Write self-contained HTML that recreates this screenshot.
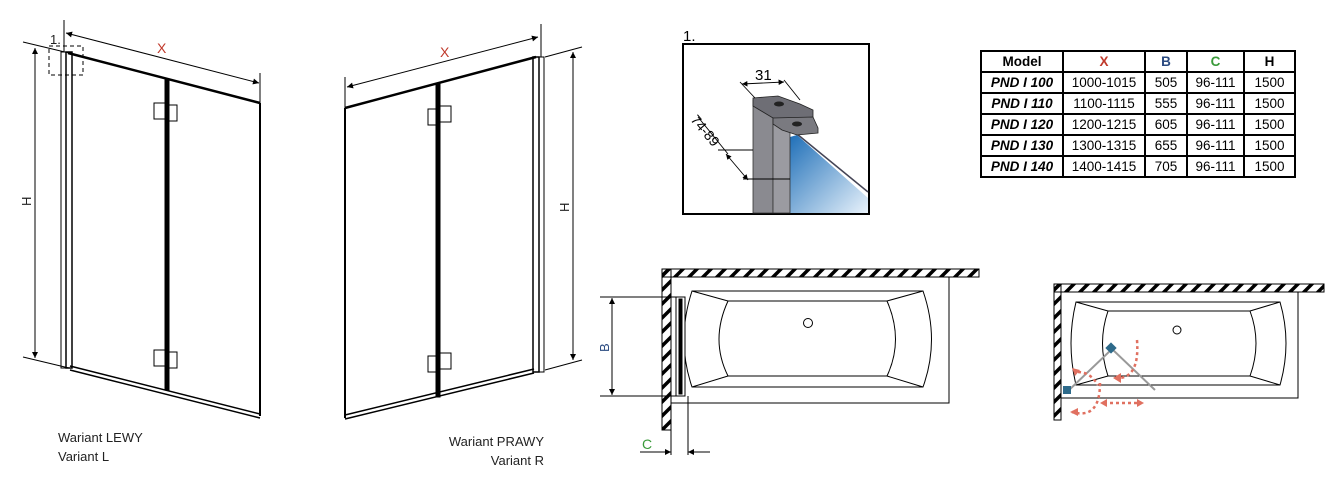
<!DOCTYPE html>
<html><head><meta charset="utf-8"><style>
html,body{margin:0;padding:0;background:#fff}
svg{display:block;font-family:"Liberation Sans","DejaVu Sans",sans-serif}
td{border:2px solid #000;padding:0;text-align:center;font-size:13.5px;height:19px}
</style></head><body>
<svg width="1339" height="484" viewBox="0 0 1339 484" xmlns="http://www.w3.org/2000/svg">
<defs>
<marker id="a" viewBox="0 0 10 10" refX="10" refY="5" markerWidth="9" markerHeight="6" orient="auto-start-reverse"><path d="M0,0L10,5L0,10z" fill="#000"/></marker>
<pattern id="h" width="14" height="14" patternUnits="userSpaceOnUse"><path d="M-3,17L17,-3M-3,3L3,-3M11,17L17,11" stroke="#000" stroke-width="3.5"/></pattern>
<linearGradient id="g" x1="0" y1="0" x2="1" y2="1"><stop offset="0" stop-color="#1f6fb8"/><stop offset="1" stop-color="#e8f2fb"/></linearGradient>
</defs>
<g stroke="#000" fill="none" stroke-width="1">
<!-- LEFT DOOR -->
<line x1="64" y1="20" x2="64" y2="52"/>
<line x1="260" y1="73" x2="260" y2="103"/>
<line x1="66" y1="33" x2="259" y2="83" marker-start="url(#a)" marker-end="url(#a)"/>
<line x1="23" y1="42" x2="69" y2="53"/><line x1="23" y1="357" x2="69" y2="368"/>
<line x1="35" y1="48" x2="35" y2="358" marker-start="url(#a)" marker-end="url(#a)"/>
<rect x="61" y="52" width="5" height="316"/><rect x="66" y="52" width="6" height="316" stroke-width="1.5"/>
<line x1="68" y1="53" x2="260" y2="103" stroke-width="2.5"/>
<line x1="260" y1="103" x2="260" y2="416" stroke-width="2"/>
<line x1="70" y1="366" x2="260" y2="414" stroke-width="1.5"/><line x1="70" y1="370" x2="260" y2="418" stroke-width="1.5"/>
<rect x="165" y="80" width="4" height="310" fill="#000"/>
<rect x="154" y="103" width="12" height="16"/><rect x="166" y="105" width="11" height="16"/>
<rect x="154" y="350" width="12" height="16"/><rect x="166" y="352" width="11" height="16"/>
<rect x="49" y="46" width="34" height="29" stroke-dasharray="4,3"/>
<!-- RIGHT DOOR -->
<line x1="345" y1="77" x2="345" y2="108"/>
<line x1="541" y1="24" x2="541" y2="57"/>
<line x1="347" y1="87" x2="538" y2="37" marker-start="url(#a)" marker-end="url(#a)"/>
<line x1="545" y1="57" x2="582" y2="47"/><line x1="545" y1="370" x2="582" y2="360"/>
<line x1="573" y1="52" x2="573" y2="360" marker-start="url(#a)" marker-end="url(#a)"/>
<line x1="345" y1="108" x2="536" y2="57" stroke-width="2.5"/>
<line x1="345" y1="108" x2="345" y2="418" stroke-width="2"/>
<rect x="533" y="57" width="6" height="315" stroke-width="1.5"/><rect x="539" y="57" width="5" height="315"/>
<line x1="345" y1="415" x2="534" y2="369" stroke-width="1.5"/><line x1="345" y1="419" x2="534" y2="373" stroke-width="1.5"/>
<rect x="436" y="83" width="4" height="314" fill="#000"/>
<rect x="428" y="109" width="11" height="16"/><rect x="439" y="106" width="12" height="16"/>
<rect x="428" y="356" width="11" height="16"/><rect x="439" y="353" width="12" height="16"/>
</g>
<g font-size="13" fill="#222">
<text x="157" y="53" fill="#c0392b" font-size="14">X</text>
<text x="440" y="57" fill="#c0392b" font-size="14">X</text>
<text x="50" y="44" font-size="13">1.</text>
<text transform="translate(31,206) rotate(-90)" font-size="13">H</text>
<text transform="translate(569,212) rotate(-90)" font-size="13">H</text>
<text x="58" y="442">Wariant LEWY</text><text x="58" y="461">Variant L</text>
<text x="544" y="446" text-anchor="end">Wariant PRAWY</text><text x="544" y="465" text-anchor="end">Variant R</text>
</g>
<!-- DETAIL -->
<text x="683" y="41" font-size="15" fill="#000">1.</text>
<rect x="683" y="44" width="186" height="170" fill="none" stroke="#000" stroke-width="2"/>
<polygon points="790,137 797,135 868,198 868,213 790,213" fill="url(#g)"/>
<line x1="797" y1="134" x2="868" y2="192" stroke="#445" stroke-width="1.5"/>
<polygon points="753,100 773,98 773,213 753,213" fill="#8a8a90" stroke="#333" stroke-width="0.8"/>
<polygon points="773,115 790,115 790,213 773,213" fill="#9b9ba1" stroke="#333" stroke-width="0.8"/>
<polygon points="753,98 778,96 800,104 813,110 813,117 795,122 773,118 753,106" fill="#6e6e75" stroke="#222" stroke-width="0.8"/>
<polygon points="773,118 813,117 818,128 818,133 797,135 782,130 773,124" fill="#7a7a80" stroke="#222" stroke-width="0.8"/>
<ellipse cx="779" cy="104" rx="5" ry="2.5" fill="#222"/><ellipse cx="797" cy="124" rx="5" ry="2.5" fill="#222"/>
<g stroke="#000" fill="none" stroke-width="0.9">
<line x1="742" y1="84" x2="784" y2="82" marker-start="url(#a)" marker-end="url(#a)"/>
<line x1="740" y1="82" x2="755" y2="98"/><line x1="784" y1="80" x2="800" y2="100"/>
<line x1="718" y1="150" x2="753" y2="150"/><line x1="743" y1="179" x2="790" y2="179"/>
<line x1="726" y1="154" x2="748" y2="180" marker-start="url(#a)" marker-end="url(#a)"/>
<line x1="698" y1="117" x2="728" y2="154"/>
</g>
<text x="755" y="80" font-size="15">31</text>
<text transform="translate(690,120) rotate(50)" font-size="14">74-89</text>
<!-- TABLE -->
<foreignObject x="980" y="50" width="318" height="140">
<table xmlns="http://www.w3.org/1999/xhtml" style="border-collapse:collapse;font-family:'Liberation Sans',sans-serif;width:316px">
<tr style="font-weight:bold"><td style="width:80px">Model</td><td style="width:80px;color:#c0392b">X</td><td style="width:40px;color:#2a4a80">B</td><td style="width:55px;color:#3a9a3a">C</td><td>H</td></tr>
<tr><td><b><i>PND I 100</i></b></td><td>1000-1015</td><td>505</td><td>96-111</td><td>1500</td></tr>
<tr><td><b><i>PND I 110</i></b></td><td>1100-1115</td><td>555</td><td>96-111</td><td>1500</td></tr>
<tr><td><b><i>PND I 120</i></b></td><td>1200-1215</td><td>605</td><td>96-111</td><td>1500</td></tr>
<tr><td><b><i>PND I 130</i></b></td><td>1300-1315</td><td>655</td><td>96-111</td><td>1500</td></tr>
<tr><td><b><i>PND I 140</i></b></td><td>1400-1415</td><td>705</td><td>96-111</td><td>1500</td></tr>
</table></foreignObject>
<!-- BATH LEFT -->
<g stroke="#000" fill="none" stroke-width="1">
<rect x="662" y="269" width="317" height="8" fill="url(#h)"/>
<rect x="662" y="269" width="9" height="161" fill="url(#h)"/>
<rect x="671" y="277" width="278" height="126" fill="#fff"/>
<path d="M692,291 L923,291 Q940,340 923,387 L692,387 Q676,340 692,291Z"/>
<path d="M728,301 L887,301 Q904,340 887,376 L728,376 Q710,340 728,301Z"/>
<path d="M692,291L728,301M923,291L887,301M692,387L728,376M923,387L887,376"/>
<circle cx="808" cy="323" r="4.5"/>
<rect x="676" y="297" width="9" height="99" fill="#fff"/><rect x="679" y="299" width="3" height="95" fill="#000"/>
<line x1="600" y1="297" x2="681" y2="297"/><line x1="600" y1="396" x2="681" y2="396"/>
<line x1="612" y1="298" x2="612" y2="395" marker-start="url(#a)" marker-end="url(#a)"/>
<line x1="671" y1="403" x2="671" y2="455"/><line x1="688" y1="396" x2="688" y2="455"/>
<line x1="640" y1="452" x2="671" y2="452" marker-end="url(#a)"/><line x1="710" y1="452" x2="688" y2="452" marker-end="url(#a)"/>
</g>
<text transform="translate(609,352) rotate(-90)" font-size="13" fill="#2a4a80">B</text>
<text x="642" y="449" font-size="14" fill="#3a9a3a">C</text>
<!-- BATH RIGHT -->
<g stroke="#000" fill="none" stroke-width="1">
<rect x="1054" y="284" width="270" height="8" fill="url(#h)"/>
<rect x="1054" y="284" width="7" height="136" fill="url(#h)"/>
<rect x="1061" y="292" width="237" height="106" fill="#fff"/>
<path d="M1076,302 L1280,302 Q1292,343 1280,385 L1076,385 Q1066,343 1076,302Z"/>
<path d="M1108,311 L1250,311 Q1262,343 1250,376 L1108,376 Q1097,343 1108,311Z"/>
<path d="M1076,302L1108,311M1280,302L1250,311M1076,385L1108,376M1280,385L1250,376"/>
<circle cx="1177" cy="330" r="4"/>
</g>
<polyline points="1067,392 1112,349 1155,390" fill="none" stroke="#999" stroke-width="2"/>
<rect x="1107" y="344" width="8" height="8" fill="#2d6a8a" transform="rotate(45 1111 348)"/>
<rect x="1063" y="386" width="8" height="8" fill="#2d6a8a"/>
<g fill="none" stroke="#e07060" stroke-width="2.5" stroke-dasharray="3,3">
<path d="M1137,340 Q1140,380 1115,378"/>
<path d="M1100,383 Q1100,420 1072,412"/>
<path d="M1078,372 Q1090,372 1098,385"/>
<line x1="1104" y1="403" x2="1140" y2="403"/>
</g>
<g fill="#e07060"><path d="M1113,378l8,-5v10z"/><path d="M1070,412l8,-4v8z"/><path d="M1072,368l8,2l-5,6z"/><path d="M1100,403l7,-4v8z"/><path d="M1144,403l-7,-4v8z"/></g>
</svg>
</body></html>
